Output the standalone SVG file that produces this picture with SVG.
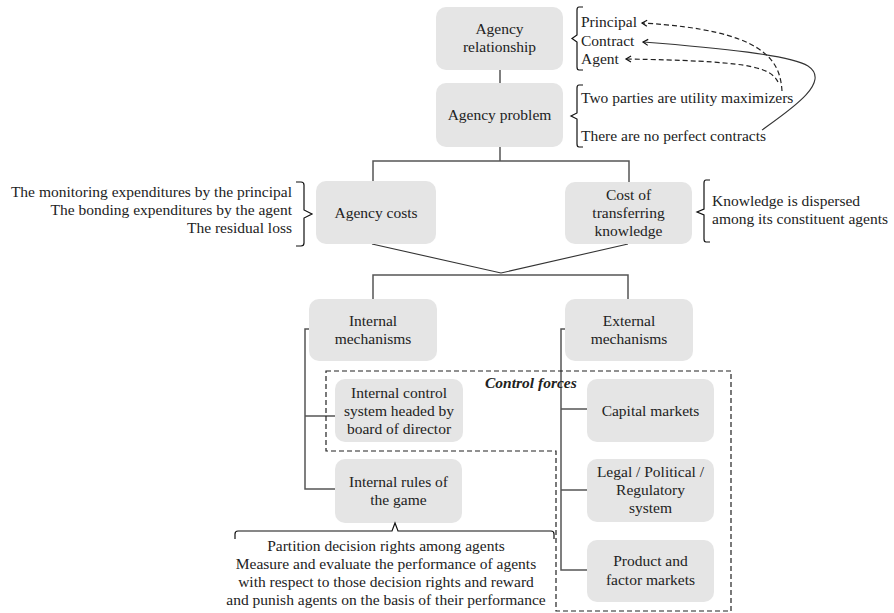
<svg xmlns="http://www.w3.org/2000/svg" width="894" height="613" viewBox="0 0 894 613">
  <defs>
    <style>
      text { font-family: "Liberation Serif", "Times New Roman", serif; font-size: 15.5px; fill: #222; }
      .c { text-anchor: middle; }
      .r { text-anchor: end; }
      .box { fill: #e5e5e5; }
      .tree { fill: none; stroke: #555; stroke-width: 1.5; }
      .thin { fill: none; stroke: #333; stroke-width: 1.1; }
      .brace { fill: none; stroke: #111; stroke-width: 1.2; }
      .dash { fill: none; stroke: #222; stroke-width: 1.2; stroke-dasharray: 5 3; }
      .title { font-weight: bold; font-style: italic; }
    </style>
    <marker id="chev" markerUnits="userSpaceOnUse" markerWidth="10" markerHeight="10" viewBox="-7 -5 10 10" refX="0" refY="0" orient="auto">
      <path d="M-5,-3 L0,0 L-5,3" fill="none" stroke="#111" stroke-width="1.2"/>
    </marker>
  </defs>

  <rect width="894" height="613" fill="#fff"/>

  <!-- connectors -->
  <g id="connectors">
    <path class="tree" d="M500,70 V83"/>
    <path class="tree" d="M500,147 V161 M373,181 V161 H629 V182"/>
    <path class="thin" d="M372,244 L501,273 L628,244"/>
    <path class="tree" d="M373,299 V275 H628 V299"/>
    <!-- internal branch -->
    <path class="tree" d="M309,329 H305 V489 H335 M305,416 H335"/>
    <!-- external branch -->
    <path class="tree" d="M565,329 H561 V570 H587 M561,409 H587 M561,490 H587"/>
    <!-- links from the problem statements to the relationship parts -->
    <path class="dash" d="M782,91 C780,60 765,30 642,23" marker-end="url(#chev)"/>
    <path class="dash" d="M778,82 C770,66 745,61 626,59" marker-end="url(#chev)"/>
    <path class="thin" d="M762,130 C790,110 832,82 808,66 C790,55 720,48 643,42" marker-end="url(#chev)"/>
  </g>

  <!-- control forces region -->
  <g id="control-forces">
    <path class="dash" d="M326,371 H731 V611 H556 V451 H326 Z"/>
    <text class="title" x="485" y="388">Control forces</text>
  </g>

  <g id="agency-relationship">
    <rect class="box" x="436" y="7" width="127" height="63" rx="10"/>
    <text class="c" x="499.5" y="34">Agency</text>
    <text class="c" x="499.5" y="52">relationship</text>
    <path class="brace" d="M583,7 H579 Q577,7 577,10 V35 L572,38.5 L577,42 V67 Q577,70 579,70 H583"/>
    <text x="581" y="27">Principal</text>
    <text x="581" y="46">Contract</text>
    <text x="581" y="64">Agent</text>
  </g>

  <g id="agency-problem">
    <rect class="box" x="436" y="83" width="127" height="64" rx="10"/>
    <text class="c" x="499.5" y="120">Agency problem</text>
    <path class="brace" d="M583,85 H579 Q577,85 577,88 V113 L571,116 L577,119 V144 Q577,147 579,147 H583"/>
    <text x="581" y="103">Two parties are utility maximizers</text>
    <text x="581" y="141">There are no perfect contracts</text>
  </g>

  <g id="agency-costs">
    <rect class="box" x="316" y="181" width="120" height="63" rx="10"/>
    <text class="c" x="376" y="218">Agency costs</text>
    <path class="brace" d="M296,182 H301 Q304,182 304,185 V210 L312,214 L304,218 V243 Q304,246 301,246 H296"/>
    <text class="r" x="292" y="197">The monitoring expenditures by the principal</text>
    <text class="r" x="292" y="215">The bonding expenditures by the agent</text>
    <text class="r" x="292" y="233">The residual loss</text>
  </g>

  <g id="cost-of-transferring-knowledge">
    <rect class="box" x="565" y="182" width="127" height="62" rx="10"/>
    <text class="c" x="628.5" y="200">Cost of</text>
    <text class="c" x="628.5" y="218">transferring</text>
    <text class="c" x="628.5" y="236">knowledge</text>
    <path class="brace" d="M710,180 H706 Q704,180 704,183 V209 L697,212 L704,215 V239 Q704,242 706,242 H710"/>
    <text x="712" y="206">Knowledge is dispersed</text>
    <text x="712" y="224">among its constituent agents</text>
  </g>

  <g id="internal-mechanisms">
    <rect class="box" x="309" y="299" width="128" height="62" rx="10"/>
    <text class="c" x="373" y="326">Internal</text>
    <text class="c" x="373" y="344">mechanisms</text>
  </g>

  <g id="external-mechanisms">
    <rect class="box" x="565" y="299" width="128" height="62" rx="10"/>
    <text class="c" x="629" y="326">External</text>
    <text class="c" x="629" y="344">mechanisms</text>
  </g>

  <g id="internal-control-system">
    <rect class="box" x="335" y="379" width="128" height="63" rx="10"/>
    <text class="c" x="399" y="398">Internal control</text>
    <text class="c" x="399" y="416">system headed by</text>
    <text class="c" x="399" y="434">board of director</text>
  </g>

  <g id="internal-rules">
    <rect class="box" x="335" y="459" width="127" height="64" rx="10"/>
    <text class="c" x="398.5" y="487">Internal rules of</text>
    <text class="c" x="398.5" y="505">the game</text>
    <path class="brace" d="M235,539 V534 Q235,531 238,531 H392 L395,523 L398,531 H551 Q554,531 554,534 V539"/>
    <text class="c" x="386" y="551">Partition decision rights among agents</text>
    <text class="c" x="386" y="569">Measure and evaluate the performance of agents</text>
    <text class="c" x="386" y="587">with respect to those decision rights and reward</text>
    <text class="c" x="386" y="605">and punish agents on the basis of their performance</text>
  </g>

  <g id="capital-markets">
    <rect class="box" x="587" y="379" width="127" height="63" rx="10"/>
    <text class="c" x="650.5" y="416">Capital markets</text>
  </g>

  <g id="legal-political-regulatory">
    <rect class="box" x="587" y="459" width="127" height="63" rx="10"/>
    <text class="c" x="650.5" y="477">Legal / Political /</text>
    <text class="c" x="650.5" y="495">Regulatory</text>
    <text class="c" x="650.5" y="513">system</text>
  </g>

  <g id="product-factor-markets">
    <rect class="box" x="587" y="540" width="127" height="62" rx="10"/>
    <text class="c" x="650.5" y="566">Product and</text>
    <text class="c" x="650.5" y="585">factor markets</text>
  </g>
</svg>
